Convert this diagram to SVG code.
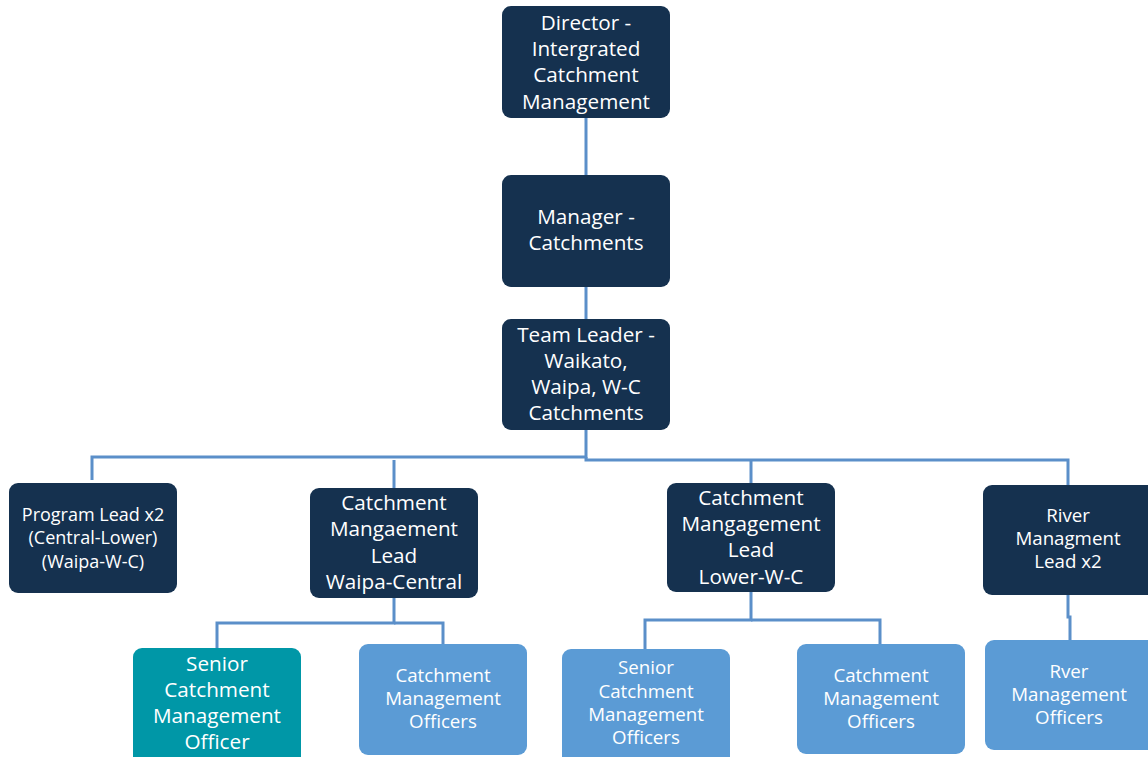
<svg xmlns="http://www.w3.org/2000/svg" width="1148" height="757" viewBox="0 0 1148 757">
<style>
.dark{fill:#15314F}
.teal{fill:#0097A7}
.light{fill:#5B9BD5}
text{font-family:"Open Sans","Noto Sans",sans-serif;fill:#FFFFFF;text-anchor:middle;font-size:20.7px}
.s18{font-size:18px}
.s19{font-size:18.7px}
.conn{fill:none;stroke:#5B8FC9;stroke-width:3}
</style>
<rect width="1148" height="757" fill="#FFFFFF"/>
<g id="connectors" class="conn">
<path d="M586 118V175"/>
<path d="M586 287V319"/>
<path d="M586 430V457H92V480"/>
<path d="M586 457V460H1068V485"/>
<path d="M394 460V488"/>
<path d="M751 460V483"/>
<path d="M394 598V623H217V648"/>
<path d="M394 623H443V644"/>
<path d="M751 592V620H645V649"/>
<path d="M751 620H880V644"/>
<path d="M1068 595V617H1070V640"/>
</g>
<g id="director">
<rect class="dark" x="502" y="6" width="168" height="112" rx="9"/>
<text x="586" y="29.5">Director -</text>
<text x="586" y="56">Intergrated</text>
<text x="586" y="82">Catchment</text>
<text x="586" y="108.5">Management</text>
</g>
<g id="manager">
<rect class="dark" x="502" y="175" width="168" height="112" rx="9"/>
<text x="586" y="224">Manager -</text>
<text x="586" y="250">Catchments</text>
</g>
<g id="team-leader">
<rect class="dark" x="502" y="319" width="168" height="111" rx="9"/>
<text x="586" y="342">Team Leader -</text>
<text x="586" y="368">Waikato,</text>
<text x="586" y="394">Waipa, W-C</text>
<text x="586" y="420">Catchments</text>
</g>
<g id="program-lead">
<rect class="dark" x="9" y="483" width="168" height="110" rx="9"/>
<text class="s18" x="93" y="520.5">Program Lead x2</text>
<text class="s18" x="93" y="544">(Central-Lower)</text>
<text class="s18" x="93" y="567.5">(Waipa-W-C)</text>
</g>
<g id="cm-lead-waipa-central">
<rect class="dark" x="310" y="488" width="168" height="110" rx="9"/>
<text x="394" y="510">Catchment</text>
<text x="394" y="536">Mangaement</text>
<text x="394" y="563">Lead</text>
<text x="394" y="589">Waipa-Central</text>
</g>
<g id="cm-lead-lower-wc">
<rect class="dark" x="667" y="483" width="168" height="109" rx="9"/>
<text x="751" y="505">Catchment</text>
<text x="751" y="531">Mangagement</text>
<text x="751" y="557">Lead</text>
<text x="751" y="584">Lower-W-C</text>
</g>
<g id="river-lead">
<rect class="dark" x="983" y="485" width="175" height="110" rx="9"/>
<text class="s19" x="1068" y="522">River</text>
<text class="s19" x="1068" y="545">Managment</text>
<text class="s19" x="1068" y="568">Lead x2</text>
</g>
<g id="senior-officer">
<rect class="teal" x="133" y="648" width="168" height="118" rx="9"/>
<text x="217" y="671">Senior</text>
<text x="217" y="697">Catchment</text>
<text x="217" y="723">Management</text>
<text x="217" y="749">Officer</text>
</g>
<g id="cm-officers-left">
<rect class="light" x="359" y="644" width="168" height="111" rx="9"/>
<text class="s19" x="443" y="682">Catchment</text>
<text class="s19" x="443" y="705">Management</text>
<text class="s19" x="443" y="728">Officers</text>
</g>
<g id="senior-officers">
<rect class="light" x="562" y="649" width="168" height="118" rx="9"/>
<text class="s19" x="646" y="674">Senior</text>
<text class="s19" x="646" y="698">Catchment</text>
<text class="s19" x="646" y="721">Management</text>
<text class="s19" x="646" y="744">Officers</text>
</g>
<g id="cm-officers-right">
<rect class="light" x="797" y="644" width="168" height="110" rx="9"/>
<text class="s19" x="881" y="682">Catchment</text>
<text class="s19" x="881" y="705">Management</text>
<text class="s19" x="881" y="728">Officers</text>
</g>
<g id="river-officers">
<rect class="light" x="985" y="640" width="175" height="110" rx="9"/>
<text class="s19" x="1069" y="678">Rver</text>
<text class="s19" x="1069" y="701">Management</text>
<text class="s19" x="1069" y="724">Officers</text>
</g>
</svg>
